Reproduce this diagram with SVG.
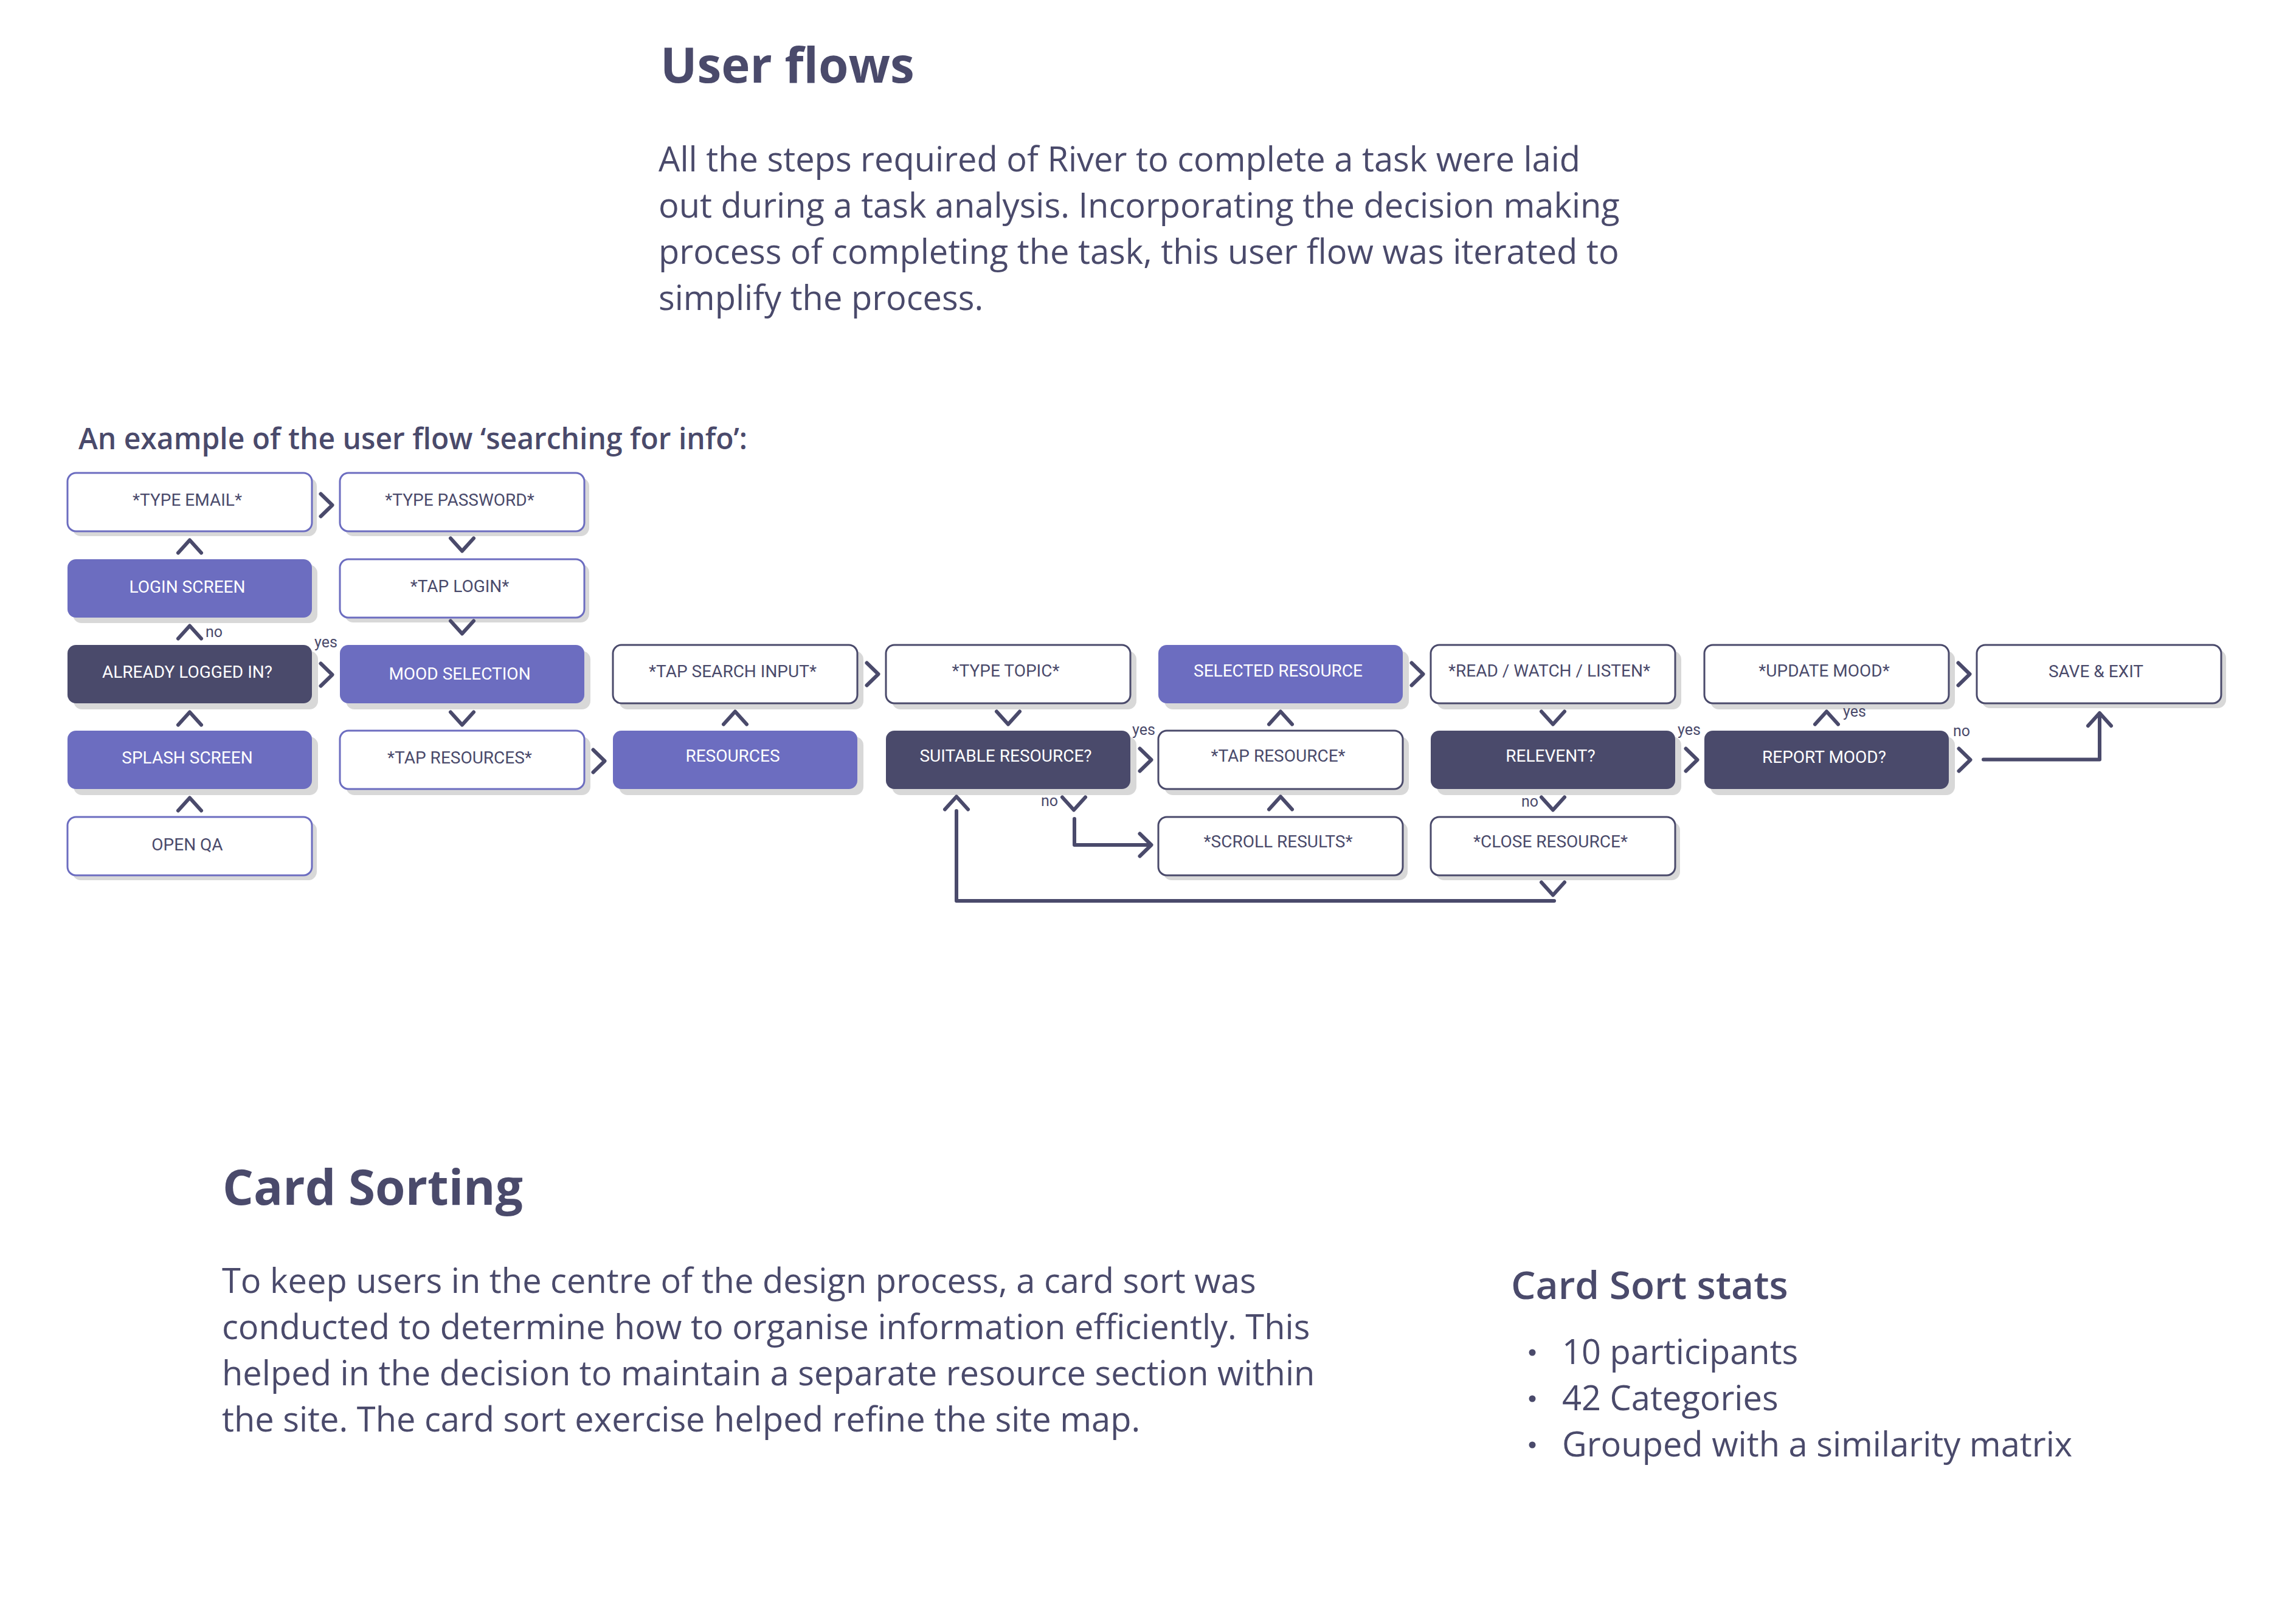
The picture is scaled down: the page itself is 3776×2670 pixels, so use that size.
<svg xmlns="http://www.w3.org/2000/svg" width="3776" height="2670" viewBox="0 0 3776 2670">
<style>
.h{font-family:"Open Sans","Noto Sans",sans-serif;fill:#4a4a6b}
.hb{font-weight:700;font-size:80px}
.hs{font-weight:600}
.p{font-size:56px;font-weight:400}
.sh{fill:#d8d8d8}
.bw{fill:#ffffff;stroke:#4a4a6b;stroke-width:3}
.bwp{fill:#ffffff;stroke:#6c6dc0;stroke-width:3}
.bp{fill:#6c6dc0}
.bd{fill:#4a4a6b}
.t{font-family:Roboto,"Liberation Sans",sans-serif;font-size:28px;text-anchor:middle}
.tl{fill:#4a4a6b}
.tw{fill:#ffffff}
.c{fill:none;stroke:#4a4a6b;stroke-width:6;stroke-linecap:round;stroke-linejoin:round}
.lb{font-family:Roboto,"Liberation Sans",sans-serif;font-size:25px;fill:#4a4a6b}
</style>
<defs>
<path id="up" d="M-19,10.5 L0,-10.5 L19,10.5"/>
<path id="dn" d="M-19,-10.5 L0,10.5 L19,-10.5"/>
<path id="rt" d="M-9.5,-18.5 L9.5,0 L-9.5,18.5"/>
</defs>
<rect width="3776" height="2670" fill="#ffffff"/>

<text class="h hb" x="1086" y="136">User flows</text>
<text class="h p" x="1083" y="282">All the steps required of River to complete a task were laid</text>
<text class="h p" x="1083" y="358">out during a task analysis. Incorporating the decision making</text>
<text class="h p" x="1083" y="434">process of completing the task, this user flow was iterated to</text>
<text class="h p" x="1083" y="510">simplify the process.</text>

<text class="h hs" x="129" y="739" font-size="48">An example of the user flow ‘searching for info’:</text>

<g id="nodes">
<g id="n-type-email"><rect class="sh" x="119" y="786" width="402" height="96" rx="14"/><rect class="bwp" x="111" y="778" width="402" height="96" rx="14"/><text class="t tl" x="308" y="832">*TYPE EMAIL*</text></g>
<g id="n-login-screen"><rect class="sh" x="120" y="929" width="402" height="96" rx="14"/><rect class="bp" x="111" y="920" width="402" height="96" rx="14"/><text class="t tw" x="308" y="975">LOGIN SCREEN</text></g>
<g id="n-already"><rect class="sh" x="121" y="1071" width="402" height="96" rx="14"/><rect class="bd" x="111" y="1061" width="402" height="96" rx="14"/><text class="t tw" x="308" y="1115">ALREADY LOGGED IN?</text></g>
<g id="n-splash"><rect class="sh" x="121" y="1212" width="402" height="96" rx="14"/><rect class="bp" x="111" y="1202" width="402" height="96" rx="14"/><text class="t tw" x="308" y="1256">SPLASH SCREEN</text></g>
<g id="n-open-qa"><rect class="sh" x="119" y="1352" width="402" height="96" rx="14"/><rect class="bwp" x="111" y="1344" width="402" height="96" rx="14"/><text class="t tl" x="308" y="1399">OPEN QA</text></g>

<g id="n-type-password"><rect class="sh" x="567" y="786" width="402" height="96" rx="14"/><rect class="bwp" x="559" y="778" width="402" height="96" rx="14"/><text class="t tl" x="756" y="832">*TYPE PASSWORD*</text></g>
<g id="n-tap-login"><rect class="sh" x="567" y="928" width="402" height="96" rx="14"/><rect class="bwp" x="559" y="920" width="402" height="96" rx="14"/><text class="t tl" x="756" y="974">*TAP LOGIN*</text></g>
<g id="n-mood-selection"><rect class="sh" x="569" y="1071" width="402" height="96" rx="14"/><rect class="bp" x="559" y="1061" width="402" height="96" rx="14"/><text class="t tw" x="756" y="1118">MOOD SELECTION</text></g>
<g id="n-tap-resources"><rect class="sh" x="569" y="1212" width="402" height="96" rx="14"/><rect class="bwp" x="559" y="1202" width="402" height="96" rx="14"/><text class="t tl" x="756" y="1256">*TAP RESOURCES*</text></g>

<g id="n-tap-search"><rect class="sh" x="1018" y="1071" width="402" height="96" rx="14"/><rect class="bw" x="1008" y="1061" width="402" height="96" rx="14"/><text class="t tl" x="1205" y="1114">*TAP SEARCH INPUT*</text></g>
<g id="n-resources"><rect class="sh" x="1018" y="1212" width="402" height="96" rx="14"/><rect class="bp" x="1008" y="1202" width="402" height="96" rx="14"/><text class="t tw" x="1205" y="1253">RESOURCES</text></g>

<g id="n-type-topic"><rect class="sh" x="1467" y="1071" width="402" height="96" rx="14"/><rect class="bw" x="1457" y="1061" width="402" height="96" rx="14"/><text class="t tl" x="1654" y="1113">*TYPE TOPIC*</text></g>
<g id="n-suitable"><rect class="sh" x="1467" y="1212" width="402" height="96" rx="14"/><rect class="bd" x="1457" y="1202" width="402" height="96" rx="14"/><text class="t tw" x="1654" y="1253">SUITABLE RESOURCE?</text></g>

<g id="n-selected"><rect class="sh" x="1915" y="1071" width="402" height="96" rx="14"/><rect class="bp" x="1905" y="1061" width="402" height="96" rx="14"/><text class="t tw" x="2102" y="1113">SELECTED RESOURCE</text></g>
<g id="n-tap-resource"><rect class="sh" x="1915" y="1212" width="402" height="96" rx="14"/><rect class="bw" x="1905" y="1202" width="402" height="96" rx="14"/><text class="t tl" x="2102" y="1253">*TAP RESOURCE*</text></g>
<g id="n-scroll"><rect class="sh" x="1913" y="1352" width="402" height="96" rx="14"/><rect class="bw" x="1905" y="1344" width="402" height="96" rx="14"/><text class="t tl" x="2102" y="1394">*SCROLL RESULTS*</text></g>

<g id="n-read"><rect class="sh" x="2363" y="1071" width="402" height="96" rx="14"/><rect class="bw" x="2353" y="1061" width="402" height="96" rx="14"/><text class="t tl" x="2548" y="1113">*READ / WATCH / LISTEN*</text></g>
<g id="n-relevent"><rect class="sh" x="2363" y="1212" width="402" height="96" rx="14"/><rect class="bd" x="2353" y="1202" width="402" height="96" rx="14"/><text class="t tw" x="2550" y="1253">RELEVENT?</text></g>
<g id="n-close"><rect class="sh" x="2361" y="1352" width="402" height="96" rx="14"/><rect class="bw" x="2353" y="1344" width="402" height="96" rx="14"/><text class="t tl" x="2550" y="1394">*CLOSE RESOURCE*</text></g>

<g id="n-update-mood"><rect class="sh" x="2813" y="1071" width="402" height="96" rx="14"/><rect class="bw" x="2803" y="1061" width="402" height="96" rx="14"/><text class="t tl" x="3000" y="1113">*UPDATE MOOD*</text></g>
<g id="n-report-mood"><rect class="sh" x="2813" y="1212" width="402" height="96" rx="14"/><rect class="bd" x="2803" y="1202" width="402" height="96" rx="14"/><text class="t tw" x="3000" y="1255">REPORT MOOD?</text></g>

<g id="n-save-exit"><rect class="sh" x="3259" y="1069" width="402" height="96" rx="14"/><rect class="bw" x="3251" y="1061" width="402" height="96" rx="14"/><text class="t tl" x="3447" y="1114">SAVE &amp; EXIT</text></g>
</g>

<g id="connectors">
<use href="#up" class="c" x="312" y="899"/>
<use href="#up" class="c" x="312" y="1040"/>
<use href="#up" class="c" x="312" y="1182"/>
<use href="#up" class="c" x="312" y="1323"/>
<use href="#rt" class="c" x="537" y="831"/>
<use href="#rt" class="c" x="537" y="1110"/>
<use href="#dn" class="c" x="760" y="896"/>
<use href="#dn" class="c" x="760" y="1032"/>
<use href="#dn" class="c" x="760" y="1182"/>
<use href="#rt" class="c" x="985" y="1252"/>
<use href="#up" class="c" x="1209" y="1181"/>
<use href="#rt" class="c" x="1435" y="1109"/>
<use href="#dn" class="c" x="1658" y="1181"/>
<use href="#rt" class="c" x="1884" y="1250"/>
<use href="#up" class="c" x="1573" y="1321"/>
<use href="#dn" class="c" x="1766" y="1322"/>
<path class="c" d="M1767,1347 V1390 H1888"/>
<use href="#rt" class="c" x="1884" y="1390"/>
<path class="c" d="M2556,1482 H1573 V1334"/>
<use href="#up" class="c" x="2106" y="1181"/>
<use href="#up" class="c" x="2106" y="1321"/>
<use href="#rt" class="c" x="2331" y="1109"/>
<use href="#dn" class="c" x="2554" y="1181"/>
<use href="#dn" class="c" x="2554" y="1322"/>
<use href="#dn" class="c" x="2554" y="1462"/>
<use href="#rt" class="c" x="2782" y="1250"/>
<use href="#up" class="c" x="3004" y="1181"/>
<use href="#rt" class="c" x="3230" y="1109"/>
<use href="#rt" class="c" x="3231" y="1250"/>
<path class="c" d="M3262,1249.5 H3453 V1178"/>
<use href="#up" class="c" x="3453" y="1183.5"/>
<text class="lb" x="338" y="1048">no</text>
<text class="lb" x="517" y="1065">yes</text>
<text class="lb" x="1862" y="1209">yes</text>
<text class="lb" x="1712" y="1326">no</text>
<text class="lb" x="2502" y="1327">no</text>
<text class="lb" x="2759" y="1209">yes</text>
<text class="lb" x="3031" y="1179">yes</text>
<text class="lb" x="3212" y="1211">no</text>
</g>

<text class="h hb" x="366" y="1982">Card Sorting</text>
<text class="h p" x="365" y="2127">To keep users in the centre of the design process, a card sort was</text>
<text class="h p" x="365" y="2203">conducted to determine how to organise information efficiently. This</text>
<text class="h p" x="365" y="2279">helped in the decision to maintain a separate resource section within</text>
<text class="h p" x="365" y="2355">the site. The card sort exercise helped refine the site map.</text>

<text class="h hs" x="2485" y="2137" font-size="64">Card Sort stats</text>
<circle cx="2520" cy="2225" r="5.5" fill="#4a4a6b"/>
<circle cx="2520" cy="2301" r="5.5" fill="#4a4a6b"/>
<circle cx="2520" cy="2377" r="5.5" fill="#4a4a6b"/>
<text class="h p" x="2569" y="2244">10 participants</text>
<text class="h p" x="2569" y="2320">42 Categories</text>
<text class="h p" x="2569" y="2396">Grouped with a similarity matrix</text>
</svg>
